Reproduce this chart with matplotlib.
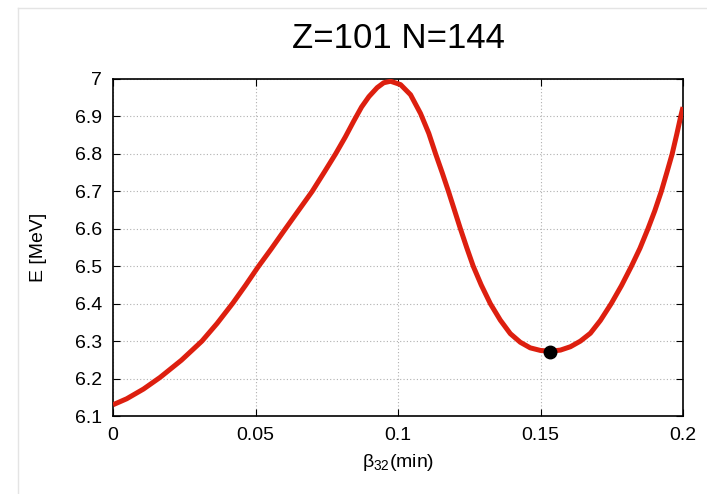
import matplotlib
matplotlib.use("Agg")
import matplotlib.pyplot as plt
from matplotlib.lines import Line2D

# energy curve (beta_32, E in MeV)
beta = [0.0000, 0.0048, 0.0107, 0.0165, 0.0240, 0.0312, 0.0365, 0.0421,
        0.0465, 0.0508, 0.0555, 0.0605, 0.0652, 0.0699, 0.0742, 0.0781,
        0.0815, 0.0845, 0.0872, 0.0898, 0.0927, 0.0950, 0.0974, 0.1009,
        0.1044, 0.1079, 0.1108, 0.1132, 0.1155, 0.1177, 0.1198, 0.1219,
        0.1241, 0.1264, 0.1292, 0.1324, 0.1359, 0.1394, 0.1429, 0.1464,
        0.1500, 0.1535, 0.1570, 0.1605, 0.1640, 0.1675, 0.1710, 0.1748,
        0.1784, 0.1819, 0.1849, 0.1877, 0.1901, 0.1924, 0.1944, 0.1962,
        0.1978, 0.1992, 0.2000]
energy = [6.130, 6.146, 6.172, 6.203, 6.249, 6.300, 6.347, 6.402,
          6.449, 6.497, 6.546, 6.600, 6.650, 6.700, 6.752, 6.800,
          6.845, 6.888, 6.925, 6.953, 6.977, 6.990, 6.994, 6.985,
          6.958, 6.908, 6.855, 6.800, 6.750, 6.700, 6.650, 6.600,
          6.550, 6.500, 6.450, 6.400, 6.356, 6.320, 6.297, 6.282,
          6.275, 6.273, 6.276, 6.285, 6.300, 6.321, 6.355, 6.400,
          6.448, 6.500, 6.548, 6.600, 6.648, 6.700, 6.752, 6.800,
          6.852, 6.900, 6.925]

min_beta = 0.1535
min_energy = 6.272

xticks = [0, 0.05, 0.1, 0.15, 0.2]
xtick_labels = ["0", "0.05", "0.1", "0.15", "0.2"]
yticks = [6.1, 6.2, 6.3, 6.4, 6.5, 6.6, 6.7, 6.8, 6.9, 7.0]
ytick_labels = ["6.1", "6.2", "6.3", "6.4", "6.5", "6.6", "6.7", "6.8", "6.9", "7"]

plt.rcParams["font.family"] = ["Liberation Sans", "DejaVu Sans"]

fig = plt.figure(figsize=(7.07, 4.94), dpi=100)
ax = fig.add_axes([113 / 707, 1 - 416 / 494, 570 / 707, 337 / 494])

ax.plot(beta, energy, color="#dd1f0f", linewidth=3.6,
        solid_joinstyle="round", solid_capstyle="butt", zorder=3)
ax.plot([min_beta], [min_energy], "o", color="black", markersize=9, zorder=4)

ax.set_xlim(0, 0.2)
ax.set_ylim(6.1, 7.0)
ax.set_xticks(xticks)
ax.set_xticklabels(xtick_labels)
ax.set_yticks(yticks)
ax.set_yticklabels(ytick_labels)
ax.tick_params(direction="in", length=5, width=0.8, labelsize=14,
               top=True, right=True, pad=8)
ax.grid(True, color="#b0b0b0", linestyle=(0, (1, 2)), linewidth=0.8)
for spine in ax.spines.values():
    spine.set_linewidth(1.2)

ax.set_xlabel(r"$\mathregular{\beta_{32}}$(min)", fontsize=14, labelpad=6)
ax.set_ylabel("E [MeV]", fontsize=14, labelpad=20)
fig.text(398 / 707, 1 - 38 / 494, "Z=101 N=144", ha="center", va="center", fontsize=25)

# faint frame of the original screenshot
fig.add_artist(Line2D([18 / 707, 18 / 707], [0, 1 - 8 / 494], transform=fig.transFigure,
                      color="#e4e4e4", linewidth=1))
fig.add_artist(Line2D([18 / 707, 1], [1 - 8 / 494, 1 - 8 / 494], transform=fig.transFigure,
                      color="#e4e4e4", linewidth=1))

fig.savefig("out.png", dpi=100)
